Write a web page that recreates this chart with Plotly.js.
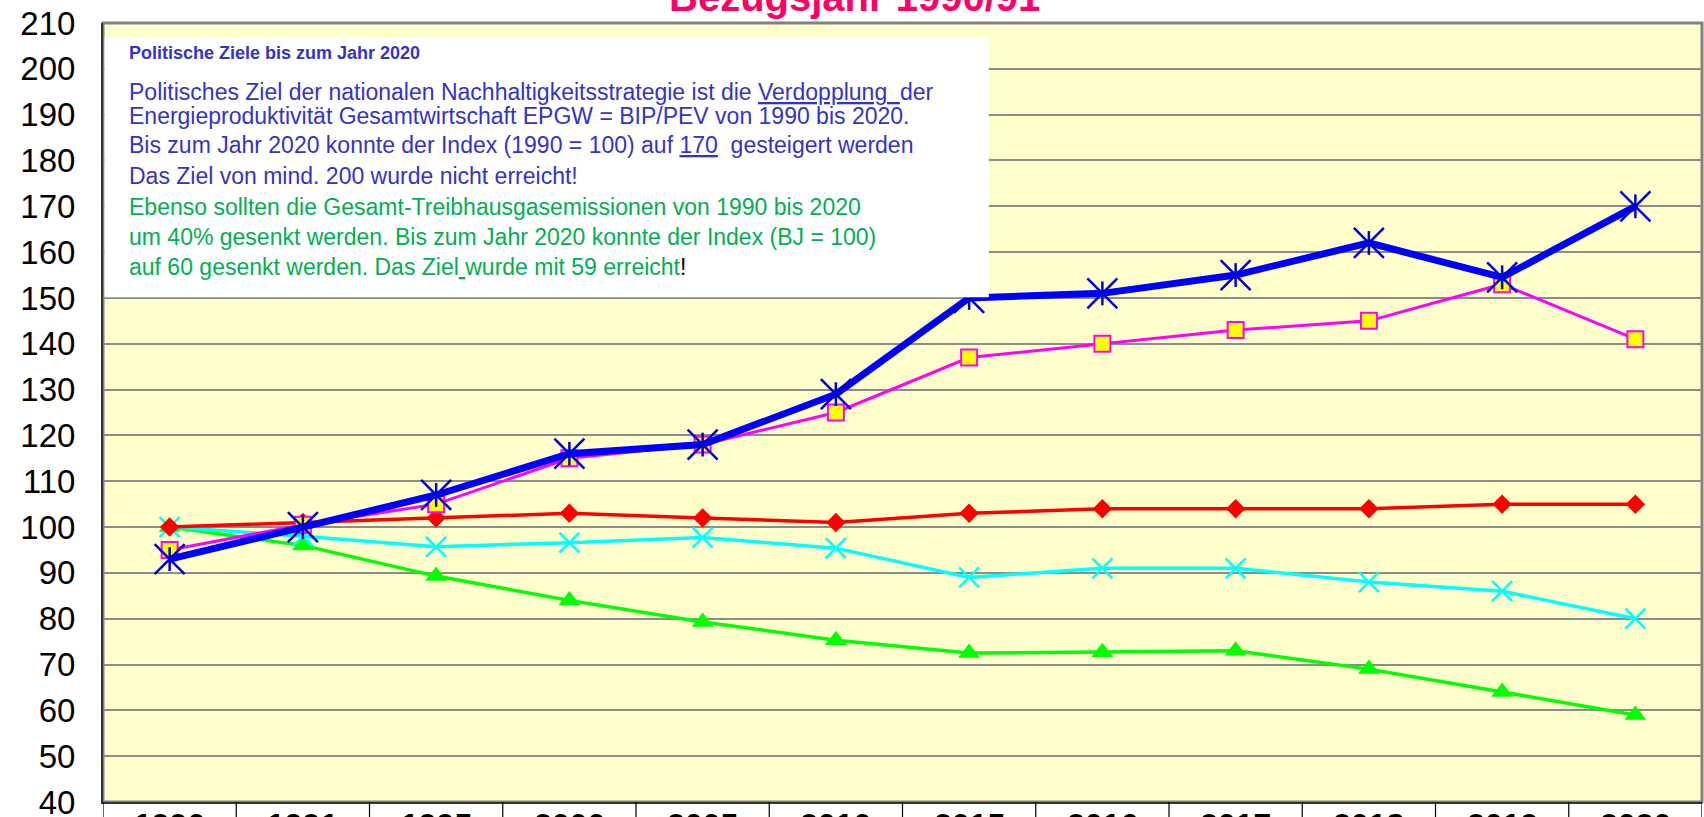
<!DOCTYPE html>
<html>
<head>
<meta charset="utf-8">
<script src="https://cdn.plot.ly/plotly-3.0.1.min.js"></script>
<style>
html,body{margin:0;padding:0;background:#fff;}
#chart{width:1704px;height:817px;}
</style>
</head>
<body>
<div id="chart"></div>
<script>
// Categories (x axis)
var years = ['1990','1991','1995','2000','2005','2010','2015','2016','2017','2018','2019','2020'];

// Series values (index, base year = 100)
var epgw    = [93, 100, 107, 116, 118, 129, 150, 151, 155, 162, 154.5, 170];   // blue, thick, star markers
var magenta = [95, 100.5, 105, 115, 118, 125, 137, 140, 143, 145, 153, 141];    // magenta, yellow squares
var red     = [100, 101, 102, 103, 102, 101, 103, 104, 104, 104, 105, 105];     // red diamonds
var cyan    = [100, 98, 95.7, 96.6, 97.7, 95.4, 89, 91, 91, 88, 86, 80];        // cyan x
var green   = [100, 96, 89.3, 84, 79.3, 75.3, 72.5, 72.7, 73, 69, 64, 59];      // green triangles

var yTicks = [40,50,60,70,80,90,100,110,120,130,140,150,160,170,180,190,200,210];

var titleText = 'Bezugsjahr 1990/91';
var boxLines = [
  {t:'<b>Politische Ziele bis zum Jahr 2020</b>', c:'#3333CC', s:18},
  {t:'Politisches Ziel der nationalen Nachhaltigkeitsstrategie ist die <u>Verdopplung  </u>der', c:'#3333CC', s:23},
  {t:'Energieproduktivität Gesamtwirtschaft EPGW = BIP/PEV von 1990 bis 2020.', c:'#3333CC', s:23},
  {t:'Bis zum Jahr 2020 konnte der Index (1990 = 100) auf <u>170</u>  gesteigert werden', c:'#3333CC', s:23},
  {t:'Das Ziel von mind. 200 wurde nicht erreicht!', c:'#3333CC', s:23},
  {t:'Ebenso sollten die Gesamt-Treibhausgasemissionen von 1990 bis 2020', c:'#00B050', s:23},
  {t:'um 40% gesenkt werden. Bis zum Jahr 2020 konnte der Index (BJ = 100)', c:'#00B050', s:23},
  {t:'auf 60 gesenkt werden. Das Ziel<u> </u>wurde mit 59 erreicht<span style="color:#000">!</span>', c:'#00B050', s:23}
];
var boxLineY = [0.9612, 0.9120, 0.8805, 0.8440, 0.8036, 0.7644, 0.7254, 0.6864];

var traces = [
  {x:years, y:green, type:'scatter', mode:'lines+markers', name:'THG',
   line:{color:'#00FF00', width:3.5},
   marker:{symbol:'triangle-up', size:19, color:'#00FF00'}},
  {x:years, y:cyan, type:'scatter', mode:'lines+markers', name:'PEV',
   line:{color:'#00FFFF', width:3.5},
   marker:{symbol:'x-thin-open', size:20, color:'#00FFFF', line:{color:'#00FFFF', width:2.5}}},
  {x:years, y:red, type:'scatter', mode:'lines+markers', name:'Bev',
   line:{color:'#FF0000', width:3.5},
   marker:{symbol:'diamond', size:15, color:'#FF0000'}},
  {x:years, y:magenta, type:'scatter', mode:'lines+markers', name:'BIP',
   line:{color:'#FF00FF', width:3},
   marker:{symbol:'square', size:16, color:'#FFFF00', line:{color:'#FF00FF', width:2}}},
  {x:years, y:epgw, type:'scatter', mode:'lines', name:'EPGW',
   line:{color:'#0000FF', width:7}},
  {x:years, y:epgw, type:'scatter', mode:'markers', name:'EPGW',
   marker:{symbol:'x-thin-open', size:30, color:'#0000DD', line:{color:'#0000DD', width:2.5}}},
  {x:years, y:epgw, type:'scatter', mode:'markers', name:'EPGW',
   marker:{symbol:'line-ns-open', size:17, color:'#0000DD', line:{color:'#0000DD', width:2.5}}}
];

var shapes = [
  // plot frame (gray)
  {type:'rect', xref:'paper', yref:'paper', x0:0, x1:1, y0:0, y1:1,
   line:{color:'#808080', width:3}, layer:'below'},
  // white text box
  {type:'rect', xref:'paper', yref:'paper', x0:0.001, x1:0.554, y0:0.648, y1:0.982,
   fillcolor:'#FFFFFF', line:{width:0}, layer:'above'}
];
// category cell separators below the plot (table row for the x labels)
for (var i = 0; i <= years.length; i++) {
  shapes.push({type:'line', xref:'x', yref:'paper', x0:i-0.5, x1:i-0.5, y0:0, y1:-0.1,
               line:{color:'#000000', width:1.2}, layer:'above'});
}

var annotations = [
  {xref:'paper', yref:'paper', x:0.470, y:1, yshift:2, xanchor:'center', yanchor:'bottom',
   text:'<b>'+titleText+'</b>', showarrow:false,
   font:{family:'Liberation Sans, Arial, sans-serif', size:40, color:'#FF0066'}}
];
for (var k = 0; k < boxLines.length; k++) {
  annotations.push({xref:'paper', yref:'paper', x:0.015, y:boxLineY[k], xanchor:'left', yanchor:'middle',
    text:boxLines[k].t, showarrow:false, align:'left',
    font:{family:'Liberation Sans, Arial, sans-serif', size:boxLines[k].s, color:boxLines[k].c}});
}
// x category labels in the table row below the plot (cut by the page edge, as in the reference)
for (var j = 0; j < years.length; j++) {
  annotations.push({xref:'x', yref:'paper', x:j, y:0, yshift:-3, xanchor:'center', yanchor:'top',
    text:'<b>'+years[j]+'</b>', showarrow:false,
    font:{family:'Liberation Sans, Arial, sans-serif', size:32, color:'#000'}});
}

var layout = {
  width:1704, height:817,
  margin:{l:103, r:2, t:23, b:15, pad:0},
  paper_bgcolor:'#FFFFFF',
  plot_bgcolor:'#FFFFCC',
  showlegend:false,
  xaxis:{type:'category', categoryorder:'array', categoryarray:years,
    range:[-0.5, years.length-0.5], showgrid:false, zeroline:false,
    showline:true, linecolor:'#333333', linewidth:2,
    ticks:'', showticklabels:false},
  yaxis:{range:[40,210], tickvals:yTicks, ticktext:yTicks.map(String),
    showgrid:true, gridcolor:'#8C8C8C', gridwidth:2, zeroline:false,
    showline:true, linecolor:'#333333', linewidth:2,
    ticks:'', ticklabelstandoff:19, ticklabeloverflow:'allow',
    tickfont:{family:'Liberation Sans, Arial, sans-serif', size:33, color:'#000'}},
  shapes:shapes,
  annotations:annotations
};

Plotly.newPlot('chart', traces, layout, {displayModeBar:false, staticPlot:true});
</script>
</body>
</html>
